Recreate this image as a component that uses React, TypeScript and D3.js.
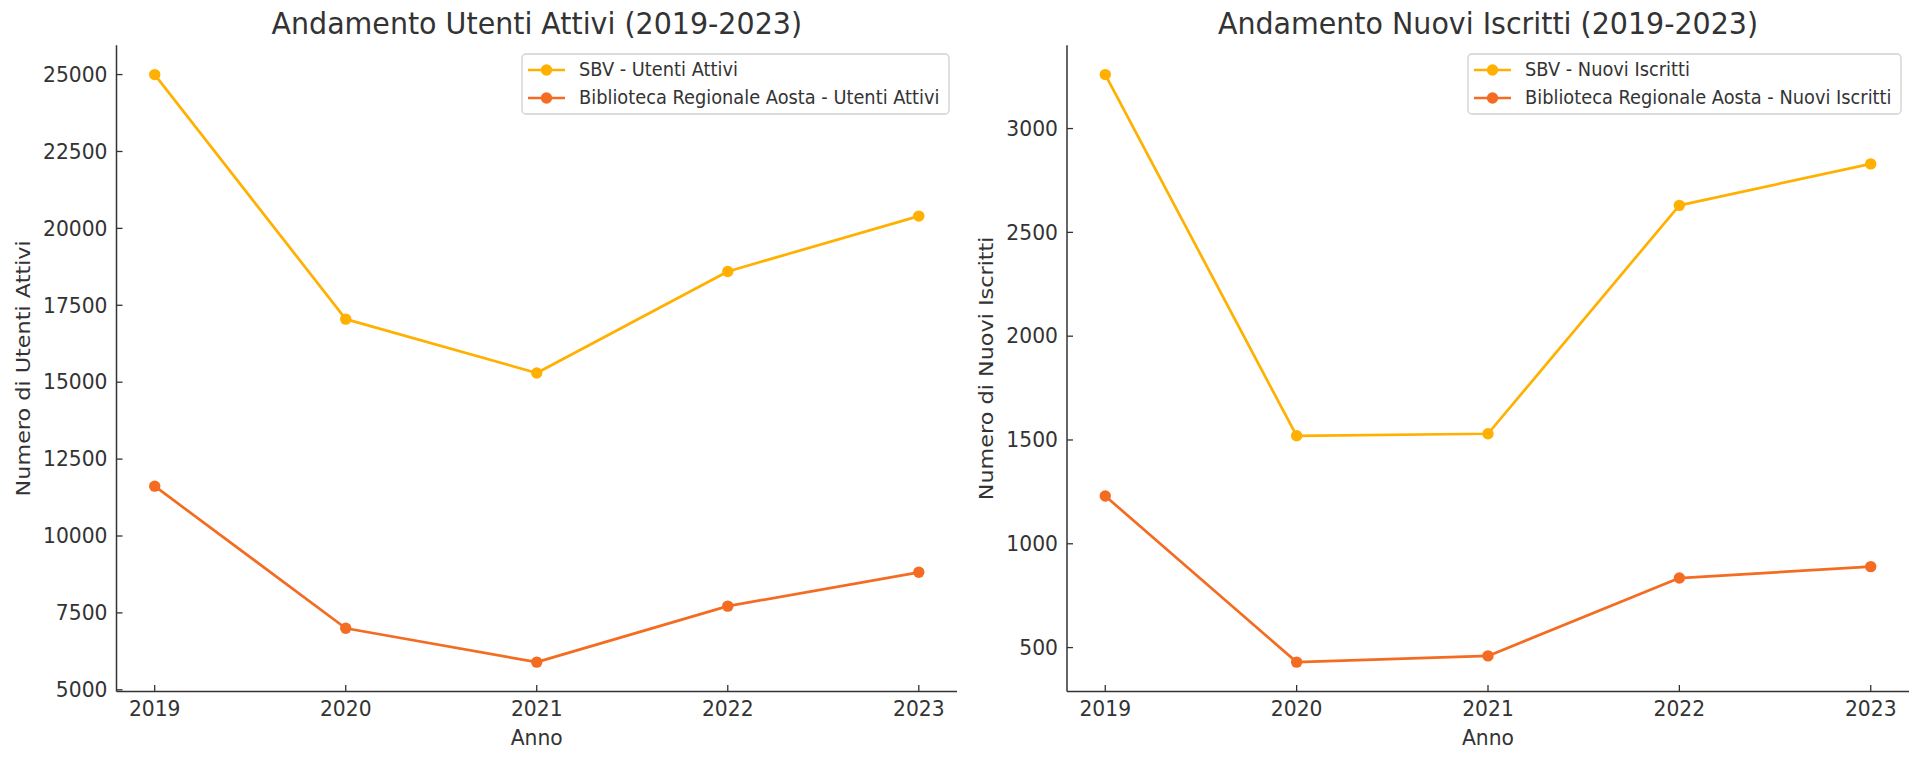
import React from 'react';
import * as d3 from 'd3';

const years = [2019, 2020, 2021, 2022, 2023];
const sbvUtenti = [25000, 17050, 15300, 18600, 20400];
const braUtenti = [11620, 7000, 5900, 7720, 8820];
const sbvIscritti = [3260, 1520, 1530, 2630, 2830];
const braIscritti = [1230, 430, 460, 835, 890];
const utentiTicks = [5000, 7500, 10000, 12500, 15000, 17500, 20000, 22500, 25000];
const iscrittiTicks = [500, 1000, 1500, 2000, 2500, 3000];
const utentiLegend = ['SBV - Utenti Attivi', 'Biblioteca Regionale Aosta - Utenti Attivi'];
const iscrittiLegend = ['SBV - Nuovi Iscritti', 'Biblioteca Regionale Aosta - Nuovi Iscritti'];

const COLORS = ['#FFB000', '#F36C21'];
const FONT = 'DejaVu Sans';
const TXT = '#333333';
const TOP = 45.2;
const BOTTOM = 691.5;
const SY = 1.08;

type PanelProps = {
  x0: number;
  x1: number;
  title: string;
  ylabel: string;
  series: number[][];
  ticks: number[];
  legend: string[];
  legendW: number;
  ylabelX: number;
};

function Panel({ x0, x1, title, ylabel, series, ticks, legend, legendW, ylabelX }: PanelProps) {
  const all = series.flat();
  const mn = d3.min(all) as number;
  const mx = d3.max(all) as number;
  const pad = (mx - mn) * 0.05;
  const y = d3.scaleLinear().domain([mn - pad, mx + pad]).range([BOTTOM, TOP]);
  const x = d3.scaleLinear().domain([years[0] - 0.2, years[years.length - 1] + 0.2]).range([x0, x1]);
  const line = d3
    .line<number>()
    .x((_, i) => x(years[i]))
    .y((d) => y(d));
  const cx = (x0 + x1) / 2;
  const cy = (TOP + BOTTOM) / 2;
  const lbx = x1 - 8 - legendW;
  const lby = 54;
  return (
    <g>
      <text
        transform={`translate(${cx},34.3) scale(1,${SY})`}
        textAnchor="middle"
        fontFamily={FONT}
        fontSize={28.5}
        fill={TXT}
      >
        {title}
      </text>
      {ticks.map((t) => (
        <g key={t}>
          <line x1={x0} x2={x0 + 6} y1={y(t)} y2={y(t)} stroke={TXT} strokeWidth={1.3} />
          <text
            transform={`translate(${x0 - 9},${y(t) + 7.3}) scale(1,${SY})`}
            textAnchor="end"
            fontFamily={FONT}
            fontSize={20.3}
            fill={TXT}
          >
            {t}
          </text>
        </g>
      ))}
      {years.map((yr) => (
        <g key={yr}>
          <line x1={x(yr)} x2={x(yr)} y1={BOTTOM} y2={BOTTOM - 6.5} stroke={TXT} strokeWidth={1.3} />
          <text
            transform={`translate(${x(yr)},715.5) scale(1,${SY})`}
            textAnchor="middle"
            fontFamily={FONT}
            fontSize={20.3}
            fill={TXT}
          >
            {yr}
          </text>
        </g>
      ))}
      <text
        transform={`translate(${cx},745) scale(1,${SY})`}
        textAnchor="middle"
        fontFamily={FONT}
        fontSize={20.3}
        fill={TXT}
      >
        Anno
      </text>
      <text
        transform={`translate(${ylabelX},${cy}) rotate(-90) scale(${1.1},1)`}
        textAnchor="middle"
        fontFamily={FONT}
        fontSize={20.3}
        fill={TXT}
      >
        {ylabel}
      </text>
      <line x1={x0} x2={x0} y1={TOP} y2={BOTTOM} stroke={TXT} strokeWidth={1.5} />
      <line x1={x0} x2={x1} y1={BOTTOM} y2={BOTTOM} stroke={TXT} strokeWidth={1.5} />
      {series.map((s, si) => (
        <g key={si}>
          <path d={line(s) || ''} fill="none" stroke={COLORS[si]} strokeWidth={2.7} strokeLinejoin="round" />
          {s.map((v, i) => (
            <circle key={i} cx={x(years[i])} cy={y(v)} r={5.7} fill={COLORS[si]} />
          ))}
        </g>
      ))}
      <rect
        x={lbx}
        y={lby}
        width={legendW}
        height={60}
        rx={4}
        fill="#ffffff"
        fillOpacity={0.8}
        stroke="#d0d0d0"
        strokeWidth={1.3}
      />
      {legend.map((lab, i) => {
        const ry = lby + 16 + i * 28;
        return (
          <g key={lab}>
            <line x1={lbx + 6} x2={lbx + 43} y1={ry} y2={ry} stroke={COLORS[i]} strokeWidth={2.7} />
            <circle cx={lbx + 24.5} cy={ry} r={5.7} fill={COLORS[i]} />
            <text
              transform={`translate(${lbx + 57},${ry + 6.4}) scale(1,${SY})`}
              fontFamily={FONT}
              fontSize={17.8}
              fill={TXT}
            >
              {lab}
            </text>
          </g>
        );
      })}
    </g>
  );
}

export default function App() {
  return (
    <svg
      width={1920}
      height={761}
      viewBox="0 0 1920 761"
      style={{ position: 'absolute', left: 0, top: 0, background: '#ffffff' }}
    >
      <rect x={0} y={0} width={1920} height={761} fill="#ffffff" />
      <Panel
        x0={116.5}
        x1={957}
        title="Andamento Utenti Attivi (2019-2023)"
        ylabel="Numero di Utenti Attivi"
        series={[sbvUtenti, braUtenti]}
        ticks={utentiTicks}
        legend={utentiLegend}
        legendW={427}
        ylabelX={30}
      />
      <Panel
        x0={1067}
        x1={1909}
        title="Andamento Nuovi Iscritti (2019-2023)"
        ylabel="Numero di Nuovi Iscritti"
        series={[sbvIscritti, braIscritti]}
        ticks={iscrittiTicks}
        legend={iscrittiLegend}
        legendW={433}
        ylabelX={993}
      />
    </svg>
  );
}
